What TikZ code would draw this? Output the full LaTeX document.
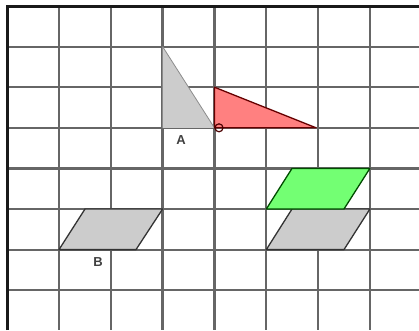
\documentclass[tikz,border=0pt]{standalone}
\usepackage{fontspec}
\setmainfont{Liberation Sans}
\begin{document}
\begin{tikzpicture}[x=1pt,y=-1pt,
  gridline/.style={draw=black!60,line width=2.2pt},
  border/.style={draw=black!90,line width=3pt},
  greyshape/.style={fill=black!20,draw=black!80,line width=1.3pt,line join=round},
  redshape/.style={fill=red!50!white,draw=red!40!black,line width=1.3pt,line join=round},
  greenshape/.style={fill=green!55!white,draw=green!30!black,line width=1.3pt,line join=round},
  lbl/.style={font=\bfseries\fontsize{13}{15}\selectfont,text=black!75,inner sep=0pt},
  ptmark/.style={circle,draw=red!30!black,line width=1.2pt,minimum size=8pt,inner sep=0pt}]
\useasboundingbox (0,0) rectangle (419,330);
\fill[white] (0,0) rectangle (419,330);
% grid
\foreach \i in {1,...,7} \draw[gridline] ({7+51.86*\i},6) -- ({7+51.86*\i},330);
\foreach \j in {1,...,7} \draw[gridline] (7,{6+40.6*\j}) -- (419,{6+40.6*\j});
\draw[border] (7,330) -- (7,6) -- (419,6);
% triangle A (grey)
\coordinate (a1) at (162.6,46.6);
\coordinate (a2) at (162.6,127.8);
\coordinate (O) at (214.4,127.8);
\fill[black!20] (a1) -- (a2) -- (O) -- cycle;
\draw[draw=black!45,line width=0.8pt] (a1) -- (O);
% red triangle
\coordinate (r1) at (214.4,87.2);
\coordinate (r3) at (316.1,127.8);
\draw[redshape] (r1) -- (O) -- (r3) -- cycle;
\node[ptmark] (Omark) at (219,127.8) {};
\node[lbl] (A) at (181,140) {A};
% parallelogram B
\draw[greyshape] (59,249.6) -- (136,249.6) -- (162.6,209) -- (85,209) -- cycle;
\node[lbl] (B) at (98,262) {B};
% grey parallelogram right
\draw[greyshape] (266.3,249.6) -- (344,249.6) -- (369.9,209) -- (292,209) -- cycle;
% green parallelogram
\draw[greenshape] (266.3,209) -- (344,209) -- (369.9,168.4) -- (292,168.4) -- cycle;
\end{tikzpicture}
\end{document}
